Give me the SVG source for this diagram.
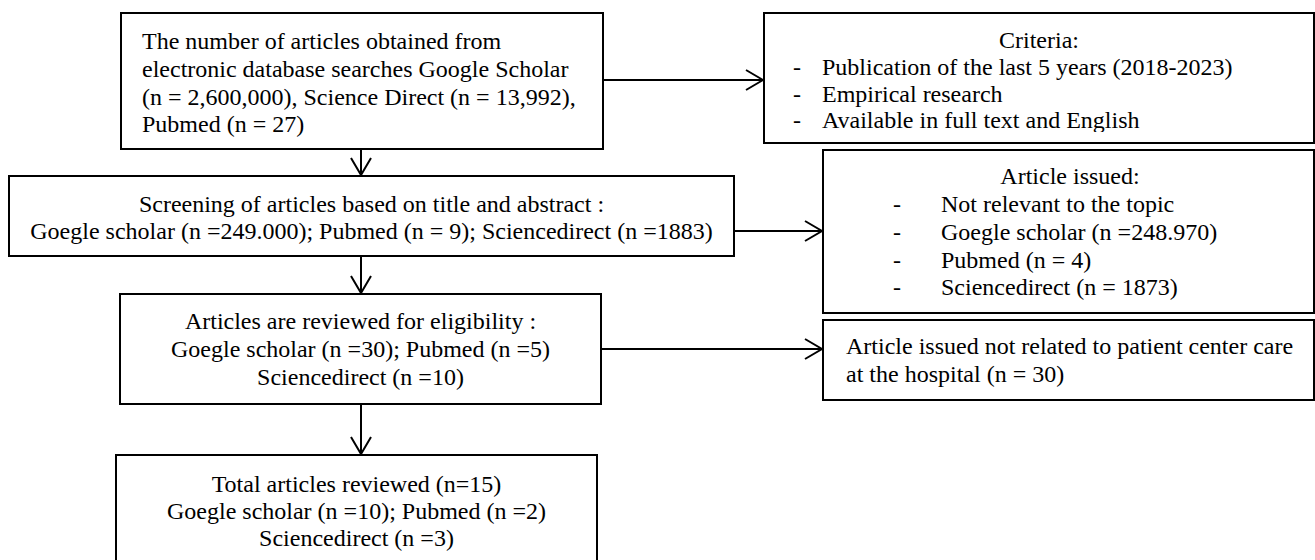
<svg xmlns="http://www.w3.org/2000/svg" width="1315" height="560" viewBox="0 0 1315 560">
<style>
.box{fill:#fff;stroke:#000;stroke-width:2}
.t{font-family:"Liberation Serif","Times New Roman",serif;font-size:24px;fill:#000}
.c{text-anchor:middle}
.ln{stroke:#000;stroke-width:2;fill:none}
</style>
<defs>
<marker id="arr" markerUnits="userSpaceOnUse" markerWidth="24" markerHeight="24" viewBox="-20 -12 24 24" refX="0" refY="0" orient="auto">
<path d="M -17 -10 L 0 0 L -17 10" fill="none" stroke="#000" stroke-width="2"/>
</marker>
<clipPath id="critclip"><rect x="764" y="13" width="551" height="119"/></clipPath>
</defs>
<rect width="1315" height="560" fill="#fff"/>
<g id="connectors">
<line class="ln" x1="361" y1="150" x2="361" y2="175" marker-end="url(#arr)"/>
<line class="ln" x1="361" y1="257" x2="361" y2="293" marker-end="url(#arr)"/>
<line class="ln" x1="361" y1="405" x2="361" y2="454" marker-end="url(#arr)"/>
<line class="ln" x1="604" y1="80" x2="763" y2="80" marker-end="url(#arr)"/>
<line class="ln" x1="735" y1="231" x2="822" y2="231" marker-end="url(#arr)"/>
<line class="ln" x1="602" y1="349" x2="822" y2="349" marker-end="url(#arr)"/>
</g>
<g id="node-search">
<rect class="box" x="121" y="13" width="482" height="136"/>
<text class="t" x="142" y="48.5">The number of articles obtained from</text>
<text class="t" x="142" y="76.5">electronic database searches Google Scholar</text>
<text class="t" x="142" y="104.5">(n = 2,600,000), Science Direct (n = 13,992),</text>
<text class="t" x="142" y="132">Pubmed (n = 27)</text>
</g>
<g id="node-criteria">
<rect class="box" x="764" y="13" width="550" height="130"/>
<g clip-path="url(#critclip)">
<text class="t c" x="1039" y="47.5">Criteria:</text>
<text class="t" x="793" y="75">-</text>
<text class="t" x="822" y="75">Publication of the last 5 years (2018-2023)</text>
<text class="t" x="793" y="101.5">-</text>
<text class="t" x="822" y="101.5">Empirical research</text>
<text class="t" x="793" y="128">-</text>
<text class="t" x="822" y="128">Available in full text and English</text>
</g>
</g>
<g id="node-screening">
<rect class="box" x="9" y="176" width="725" height="80"/>
<text class="t c" x="371.5" y="212">Screening of articles based on title and abstract :</text>
<text class="t c" x="371.5" y="238.5">Goegle scholar (n =249.000); Pubmed (n = 9); Sciencedirect (n =1883)</text>
</g>
<g id="node-issued">
<rect class="box" x="823" y="150" width="491" height="163"/>
<text class="t c" x="1070" y="184">Article issued:</text>
<text class="t" x="893" y="212">-</text>
<text class="t" x="941" y="212">Not relevant to the topic</text>
<text class="t" x="893" y="240">-</text>
<text class="t" x="941" y="240">Goegle scholar (n =248.970)</text>
<text class="t" x="893" y="267.5">-</text>
<text class="t" x="941" y="267.5">Pubmed (n = 4)</text>
<text class="t" x="893" y="295">-</text>
<text class="t" x="941" y="295">Sciencedirect (n = 1873)</text>
</g>
<g id="node-eligibility">
<rect class="box" x="120" y="294" width="481" height="110"/>
<text class="t c" x="360.5" y="329">Articles are reviewed for eligibility :</text>
<text class="t c" x="360.5" y="357">Goegle scholar (n =30); Pubmed (n =5)</text>
<text class="t c" x="360.5" y="385">Sciencedirect (n =10)</text>
</g>
<g id="node-excluded">
<rect class="box" x="823" y="320" width="491" height="80"/>
<text class="t" x="846" y="354">Article issued not related to patient center care</text>
<text class="t" x="846" y="382">at the hospital (n = 30)</text>
</g>
<g id="node-total">
<rect class="box" x="116" y="455" width="481" height="115"/>
<text class="t c" x="356.5" y="492">Total articles reviewed (n=15)</text>
<text class="t c" x="356.5" y="519">Goegle scholar (n =10); Pubmed (n =2)</text>
<text class="t c" x="356.5" y="546">Sciencedirect (n =3)</text>
</g>
</svg>
